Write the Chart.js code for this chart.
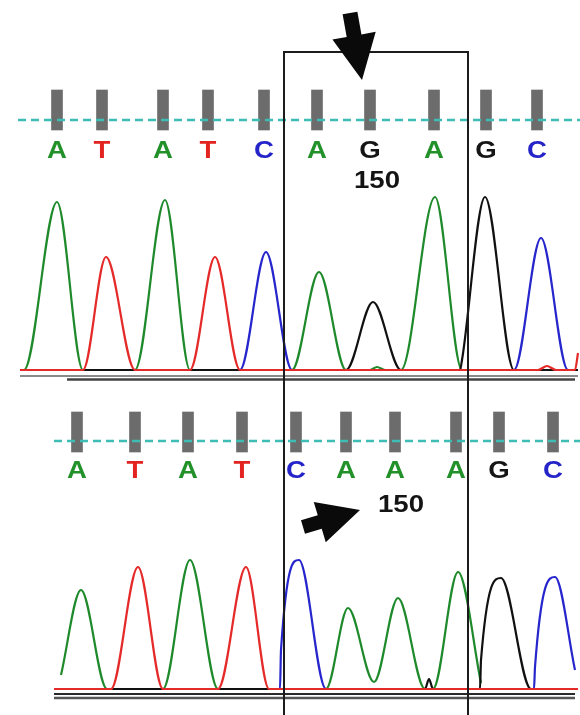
<!DOCTYPE html>
<html><head><meta charset="utf-8">
<script src="https://cdn.jsdelivr.net/npm/chart.js@4/dist/chart.umd.min.js"></script>
<style>
html,body{margin:0;padding:0;background:#fff;}
#wrap{position:relative;width:580px;height:715px;overflow:hidden;background:#fff;}
canvas{position:absolute;left:0;}
#c1{top:0}
#c2{top:390px}
</style></head><body>
<div id="wrap"><canvas id="c1" width="580" height="390"></canvas><canvas id="c2" width="580" height="325"></canvas></div>
<script>
// ---------- data (scan position, signal intensity) ----------
const topBases = ['A','T','A','T','C','A','G','A','G','C'];
const topBasePos = [57,102,163,208,264,317,370,434,486,537];
const botBases = ['A','T','A','T','C','A','A','A','G','C'];
const botBasePos = [77,135,188,242,296,346,395,456,499,553];
const positionLabel = '150';
const labelBaseIndex = 6;

const topGreen = [[20,0],[24,0],[57,168],[83,0],[135,0],[165,170],[190,0],[292,0],[319,98],[346,0],[370,0],[377,3],[385,0],[401,0],[435,173],[462,0],[578,0]];
const topRed   = [[20,0],[83,0],[106,113],[135,0],[190,0],[215,113],[240,0],[538,0],[547,4],[556,0],[575,0],[578,17]];
const topBlue  = [[20,0],[240,0],[266,118],[292,0],[514,0],[541,132],[568,0],[578,0]];
const topBlack = [[20,0],[346,0],[373,68],[401,0],[460,0],[462,10],[485,173],[514,0],[578,0]];

const botGreen = [[61,14],[81,99],[107,0],[163,0],[190,129],[218,0],[326,0],[348,81],[374,7],[398,91],[425,0],[433,0],[458,117],[481,6]];
const botRed   = [[54,0],[111,0],[138,122],[163,0],[218,0],[246,122],[269,0],[578,0]];
const botBlue  = [[54,0],[280,0],[281,39],[299,129],[326,0],[534,0],[535,22],[555,112],[575,19]];
const botBlack = [[54,0],[425,0],[429,10],[433,0],[480,0],[481,29],[501,111],[531,0],[578,0]];

const boxScan = [284,468];

// ---------- styling ----------
const COL = {A:'#23912a', T:'#e3231f', C:'#2424c8', G:'#151515'};
const TRACE = {A:'#1f8a2b', T:'#e52a2a', C:'#2626cc', G:'#111111'};
const pts = arr => arr.map(p => ({x:p[0], y:p[1]}));

function traceDS(arr, color){
  return {type:'line', data:pts(arr), borderColor:color, borderWidth:2.2, pointRadius:0,
          cubicInterpolationMode:'monotone', borderJoinStyle:'round', fill:false};
}
function segDS(x0,x1,v,color,w,dash){
  return {type:'line', data:[{x:x0,y:v},{x:x1,y:v}], borderColor:color, borderWidth:w,
          pointRadius:0, borderDash:dash||[], fill:false, tension:0};
}
function overlay(cfg){
  return {id:'ov_'+cfg.name, afterDatasetsDraw(chart){
    const {ctx, chartArea} = chart; const x = chart.scales.x, y = chart.scales.y;
    ctx.save();
    ctx.textAlign='center'; ctx.textBaseline='middle';
    cfg.bases.forEach((b,i)=>{
      ctx.save();
      ctx.translate(x.getPixelForValue(cfg.pos[i]), y.getPixelForValue(cfg.letterV));
      ctx.scale(1.2,1);
      ctx.font='bold 23px "Liberation Sans", Arial, sans-serif';
      ctx.fillStyle=COL[b]; ctx.fillText(b,0,0); ctx.restore();
    });
    ctx.save();
    ctx.translate(x.getPixelForValue(cfg.numX), y.getPixelForValue(cfg.numV));
    ctx.scale(1.2,1);
    ctx.font='bold 23px "Liberation Sans", Arial, sans-serif';
    ctx.fillStyle='#141414'; ctx.fillText(positionLabel,0,0); ctx.restore();
    // box
    const bl = x.getPixelForValue(boxScan[0]), br = x.getPixelForValue(boxScan[1]);
    ctx.strokeStyle='#1c1c1c'; ctx.lineWidth=2; ctx.beginPath();
    if (cfg.boxTop != null){
      const bt = y.getPixelForValue(cfg.boxTop);
      ctx.moveTo(bl, chartArea.bottom); ctx.lineTo(bl, bt); ctx.lineTo(br, bt); ctx.lineTo(br, chartArea.bottom);
    } else {
      ctx.moveTo(bl, chartArea.top); ctx.lineTo(bl, chartArea.bottom);
      ctx.moveTo(br, chartArea.top); ctx.lineTo(br, chartArea.bottom);
    }
    ctx.stroke();
    // arrow
    const a = cfg.arrow;
    const tx = x.getPixelForValue(a.tail[0]), ty = y.getPixelForValue(a.tail[1]);
    const px = x.getPixelForValue(a.tip[0]), py = y.getPixelForValue(a.tip[1]);
    const L = Math.hypot(px-tx, py-ty), ux=(px-tx)/L, uy=(py-ty)/L, nx=-uy, ny=ux;
    const bx = px-ux*a.hl, by = py-uy*a.hl;
    ctx.fillStyle='#0a0a0a'; ctx.beginPath();
    ctx.moveTo(tx+nx*a.sw, ty+ny*a.sw);
    ctx.lineTo(bx+nx*a.sw, by+ny*a.sw);
    ctx.lineTo(bx+nx*a.hw, by+ny*a.hw);
    ctx.lineTo(px, py);
    ctx.lineTo(bx-nx*a.hw, by-ny*a.hw);
    ctx.lineTo(bx-nx*a.sw, by-ny*a.sw);
    ctx.lineTo(tx-nx*a.sw, ty-ny*a.sw);
    ctx.closePath(); ctx.fill();
    ctx.restore();
  }};
}
function makeChart(id, traces, pos, bars, dash, lines, yMin, yMax, ov){
  const datasets = [
    traceDS(traces.T, TRACE.T), traceDS(traces.G, TRACE.G), traceDS(traces.C, TRACE.C), traceDS(traces.A, TRACE.A),
    segDS(dash[0], dash[1], dash[2], '#3dbdb5', 2.5, [8,5]),
    {type:'bar', data:pos.map(p=>({x:p, y:bars})), backgroundColor:'#6c6c6c', barThickness:11, borderWidth:0},
    ...lines.map(l => segDS(l[0], l[1], l[2], l[3], l[4]))
  ];
  return new Chart(document.getElementById(id), {
    type:'line',
    data:{datasets},
    options:{
      responsive:false, animation:false, devicePixelRatio:1, events:[],
      layout:{padding:0},
      plugins:{legend:{display:false}, tooltip:{enabled:false}},
      scales:{
        x:{type:'linear', min:0, max:580, display:false, offset:false},
        y:{type:'linear', min:yMin, max:yMax, display:false}
      }
    },
    plugins:[overlay(ov)]
  });
}

makeChart('c1', {A:topGreen, T:topRed, C:topBlue, G:topBlack}, topBasePos, [240,280],
  [18,580,250],
  [[20,578,-6,'#8a8a8a',2],[67,575,-9.5,'#444444',2.5]],
  -20, 370,
  {name:'top', bases:topBases, pos:topBasePos, letterV:218, numX:377, numV:188, boxTop:318,
   arrow:{tail:[350,357], tip:[362,290], sw:7.5, hw:22, hl:45}});

makeChart('c2', {A:botGreen, T:botRed, C:botBlue, G:botBlack}, botBasePos, [237,277],
  [54,580,248],
  [[54,575,-5,'#2a2a2a',2],[54,575,-9,'#555555',2.5]],
  -26, 299,
  {name:'bot', bases:botBases, pos:botBasePos, letterV:217, numX:401, numV:183, boxTop:null,
   arrow:{tail:[303,162], tip:[360,179], sw:7, hw:21, hl:42}});
</script>
</body></html>
